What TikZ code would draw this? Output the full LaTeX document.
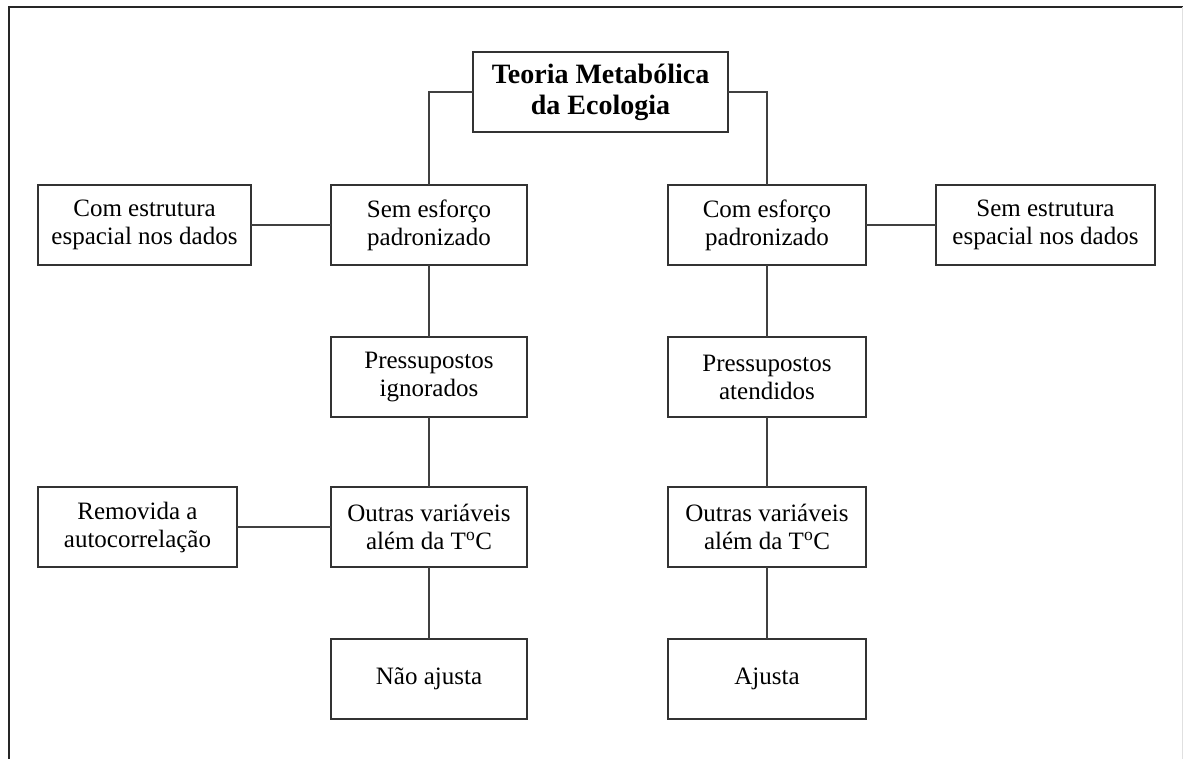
\documentclass[tikz,border=0pt]{standalone}
\usepackage{fontspec}
\setmainfont{Liberation Serif}
\tikzset{
  caixa/.style={draw=black!80,line width=1.3pt,fill=white,align=center,inner sep=0pt,
    minimum height=80pt,font=\fontsize{25}{28}\selectfont},
  liga/.style={draw=black!75,line width=1.3pt}
}
\begin{document}
\begin{tikzpicture}[x=1pt,y=-1pt,line cap=rect,line join=miter]
    \useasboundingbox (0,0) rectangle (1183,758);
    % moldura
    \draw[black!85,line width=2.4pt] (9,758) -- (9,7) -- (1183,7);
    \draw[black!12,line width=1pt] (1182,7) -- (1182,758);

    % topo
    \node[caixa,minimum width=255pt,font=\fontsize{28}{31}\selectfont\bfseries]
      (teoria) at (600.5,92) {Teoria Metabólica\\da Ecologia};

    % coluna esquerda
    \node[caixa,minimum width=196pt] (semesf) at (429,225) {Sem esforço\\padronizado};
    \node[caixa,minimum width=196pt] (pressign) at (429,377) {Pressupostos\\ignorados};
    \node[caixa,minimum width=196pt] (outrasE) at (429,527) {Outras variáveis\\além da T\textsuperscript{o}C};
    \node[caixa,minimum width=196pt] (naoaj) at (429,679) {Não ajusta};
    \node[caixa,minimum width=213pt] (comestr) at (144.5,225) {Com estrutura\\espacial nos dados};
    \node[caixa,minimum width=199pt] (removida) at (137.5,527) {Removida a\\autocorrelação};

    % coluna direita
    \node[caixa,minimum width=198pt] (comesf) at (767,225) {Com esforço\\padronizado};
    \node[caixa,minimum width=198pt] (pressat) at (767,377) {Pressupostos\\atendidos};
    \node[caixa,minimum width=198pt] (outrasD) at (767,527) {Outras variáveis\\além da T\textsuperscript{o}C};
    \node[caixa,minimum width=198pt] (ajusta) at (767,679) {Ajusta};
    \node[caixa,minimum width=219pt] (semestr) at (1045.5,225) {Sem estrutura\\espacial nos dados};

    % ligacoes
    \draw[liga] (teoria.west) -| (semesf.north);
    \draw[liga] (teoria.east) -| (comesf.north);
    \draw[liga] (comestr) -- (semesf);
    \draw[liga] (comesf) -- (semestr);
    \draw[liga] (removida) -- (outrasE);
    \draw[liga] (semesf) -- (pressign);
    \draw[liga] (pressign) -- (outrasE);
    \draw[liga] (outrasE) -- (naoaj);
    \draw[liga] (comesf) -- (pressat);
    \draw[liga] (pressat) -- (outrasD);
    \draw[liga] (outrasD) -- (ajusta);
  \end{tikzpicture}
\end{document}
